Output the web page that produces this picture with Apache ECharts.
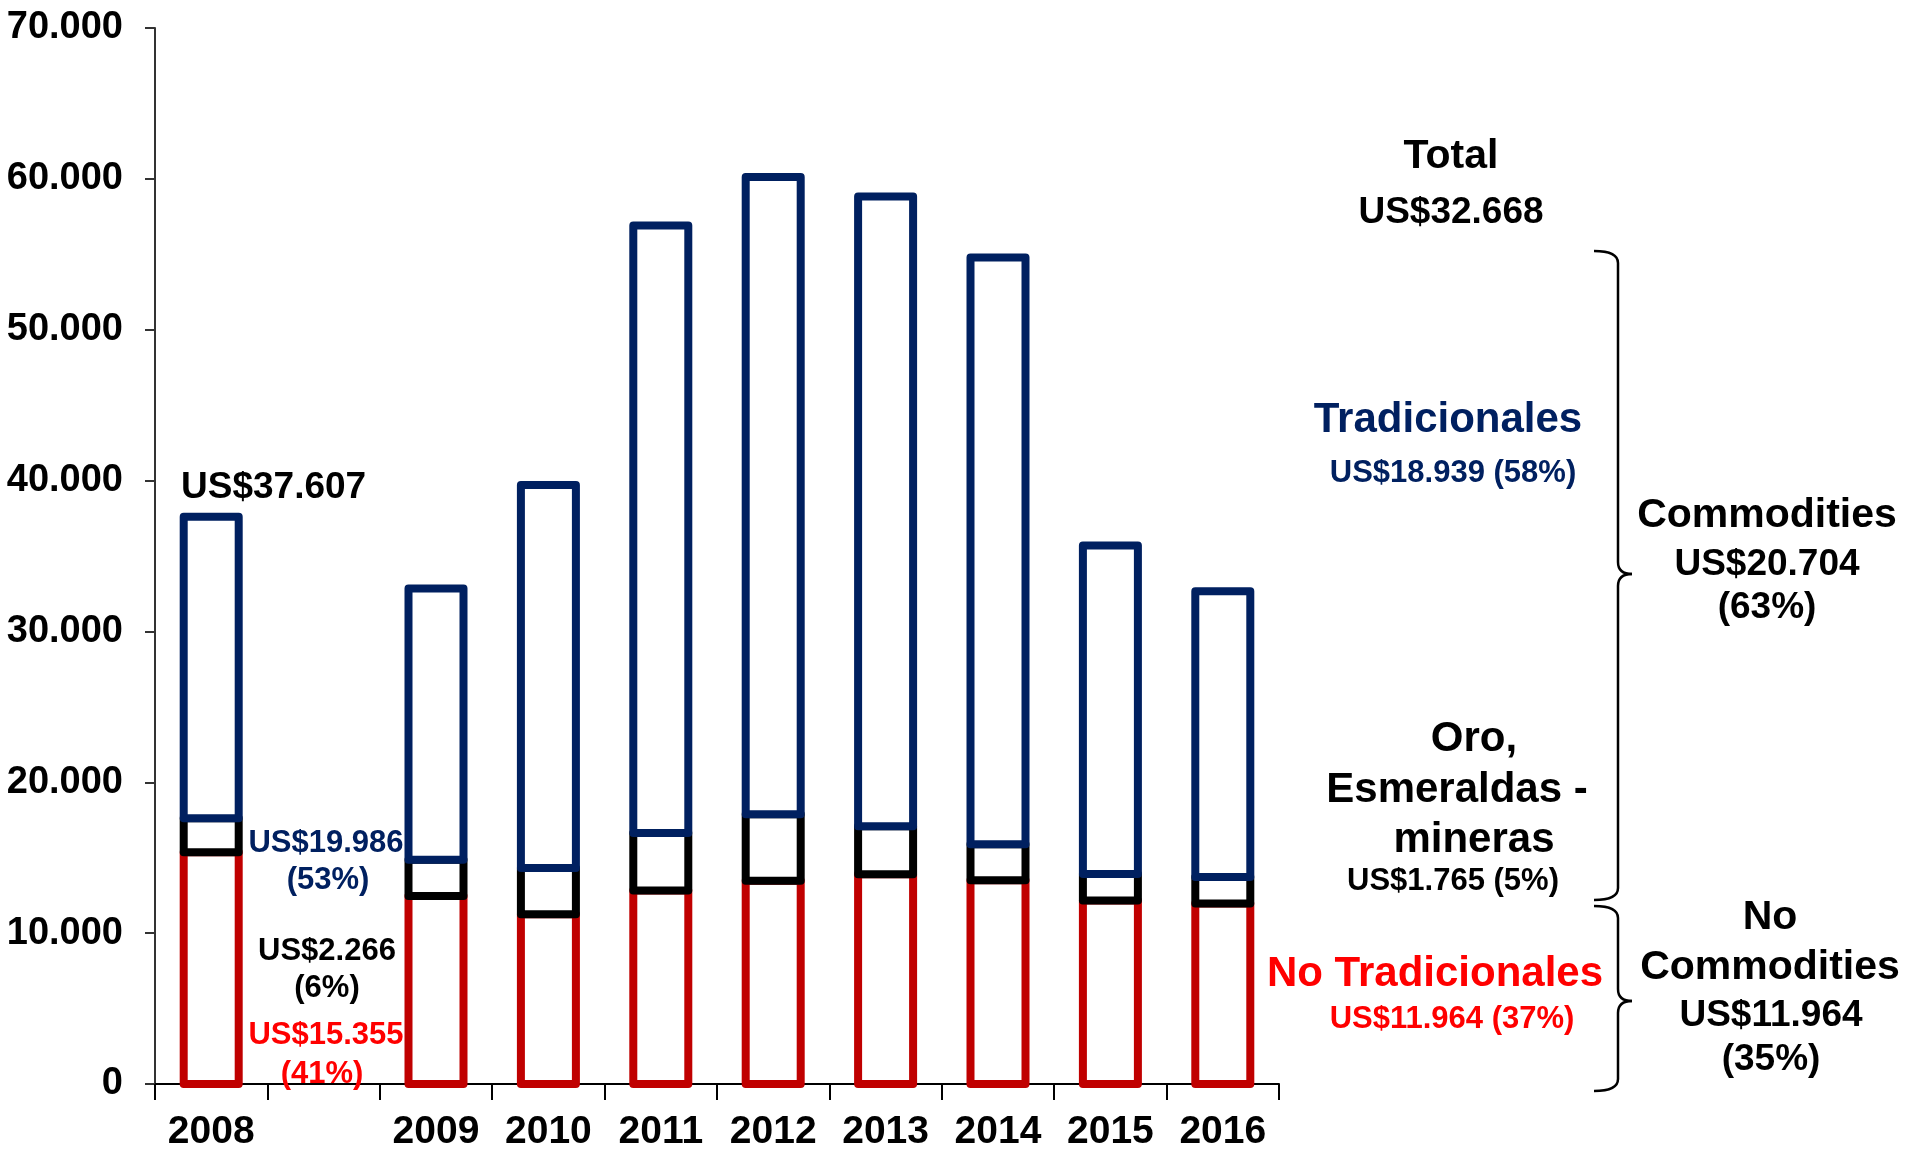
<!DOCTYPE html>
<html>
<head>
<meta charset="utf-8">
<script src="https://cdn.jsdelivr.net/npm/echarts@6/dist/echarts.min.js"></script>
<style>
html,body{margin:0;padding:0;background:#fff;}
#chart{width:1915px;height:1152px;}
</style>
</head>
<body>
<div id="chart"></div>
<script>
// Categories (second slot is an empty gap in the original chart)
const categories = ['2008', '', '2009', '2010', '2011', '2012', '2013', '2014', '2015', '2016'];
// No Tradicionales (bottom, red)
const noTradicionales = [15355, null, 12470, 11260, 12820, 13480, 13900, 13500, 12160, 11964];
// Oro, Esmeraldas - mineras (middle, black)
const oroEsmeraldas = [2266, null, 2400, 3060, 3810, 4400, 3190, 2400, 1760, 1765];
// Tradicionales (top, navy)
const tradicionales = [19986, null, 17983, 25393, 40285, 42245, 41736, 38895, 21771, 18939];
const yTicks = [0, 10000, 20000, 30000, 40000, 50000, 60000, 70000];

const NAVY = '#002060', DRED = '#C00000', RED = '#FF0000', BLACK = '#000000';
const FONT = '"Liberation Sans", Arial, sans-serif';
const BAR_W = 55, STROKE = 8;

const chart = echarts.init(document.getElementById('chart'), null, {renderer: 'canvas'});

function fmt(v) {
  return String(v).replace(/\B(?=(\d{3})+(?!\d))/g, '.');
}

// stacked [index, start, end] rows built from the value arrays
const layers = [noTradicionales, oroEsmeraldas, tradicionales];
function stackedRows(layerIdx) {
  const rows = [];
  categories.forEach(function (c, i) {
    const v = layers[layerIdx][i];
    if (v == null) return;
    let base = 0;
    for (let k = 0; k < layerIdx; k++) base += layers[k][i] || 0;
    rows.push([i, base, base + v]);
  });
  return rows;
}

function outlinedStack(name, layerIdx, color) {
  return {
    name: name,
    type: 'custom',
    data: stackedRows(layerIdx),
    encode: {x: 0, y: [1, 2]},
    z: 2 + layerIdx,
    silent: true,
    animation: false,
    renderItem: function (params, api) {
      const lo = api.coord([api.value(0), api.value(1)]);
      const hi = api.coord([api.value(0), api.value(2)]);
      return {
        type: 'rect',
        shape: {x: lo[0] - BAR_W / 2, y: hi[1], width: BAR_W, height: lo[1] - hi[1]},
        style: {fill: '#ffffff', stroke: color, lineWidth: STROKE, lineJoin: 'round'}
      };
    }
  };
}

function txt(x, y, text, size, color, align) {
  return {
    type: 'text', x: x, y: y, z: 10,
    style: {
      text: text, fill: color, font: 'bold ' + size + 'px ' + FONT,
      textAlign: align || 'center', textVerticalAlign: 'middle'
    }
  };
}

// curly brace made of straight lines and quadratic curls
function brace(x, top, mid, bottom, curlX, tipX) {
  const ls = {stroke: BLACK, lineWidth: 2.5, fill: null};
  const r = 12;
  return [
    {type: 'bezierCurve', z: 10, shape: {x1: curlX, y1: top, x2: x, y2: top + r, cpx1: x, cpy1: top}, style: ls},
    {type: 'line', z: 10, shape: {x1: x, y1: top + r, x2: x, y2: mid - r}, style: ls},
    {type: 'bezierCurve', z: 10, shape: {x1: x, y1: mid - r, x2: tipX, y2: mid, cpx1: x, cpy1: mid}, style: ls},
    {type: 'bezierCurve', z: 10, shape: {x1: tipX, y1: mid, x2: x, y2: mid + r, cpx1: x, cpy1: mid}, style: ls},
    {type: 'line', z: 10, shape: {x1: x, y1: mid + r, x2: x, y2: bottom - r}, style: ls},
    {type: 'bezierCurve', z: 10, shape: {x1: x, y1: bottom - r, x2: curlX, y2: bottom, cpx1: x, cpy1: bottom}, style: ls}
  ];
}

const graphics = [
  txt(181, 488, 'US$37.607', 37, BLACK, 'left'),
  txt(326, 843, 'US$19.986', 31, NAVY),
  txt(328, 880, '(53%)', 31, NAVY),
  txt(327, 951, 'US$2.266', 31, BLACK),
  txt(327, 988, '(6%)', 31, BLACK),
  txt(326, 1035, 'US$15.355', 31, RED),
  txt(322, 1074, '(41%)', 31, RED),

  txt(1451, 157, 'Total', 41, BLACK),
  txt(1451, 213, 'US$32.668', 37, BLACK),

  txt(1448, 420, 'Tradicionales', 42, NAVY),
  txt(1453, 473, 'US$18.939 (58%)', 31, NAVY),

  txt(1474, 739, 'Oro,', 42, BLACK),
  txt(1457, 790, 'Esmeraldas -', 42, BLACK),
  txt(1474, 840, 'mineras', 42, BLACK),
  txt(1453, 881, 'US$1.765 (5%)', 31, BLACK),

  txt(1435, 974, 'No Tradicionales', 42, RED),
  txt(1452, 1019, 'US$11.964 (37%)', 31, RED),

  txt(1767, 516, 'Commodities', 41, BLACK),
  txt(1767, 565, 'US$20.704', 37, BLACK),
  txt(1767, 608, '(63%)', 37, BLACK),

  txt(1770, 918, 'No', 41, BLACK),
  txt(1770, 968, 'Commodities', 41, BLACK),
  txt(1771, 1016, 'US$11.964', 37, BLACK),
  txt(1771, 1060, '(35%)', 37, BLACK)
].concat(brace(1618, 251, 574, 900, 1594, 1632))
  .concat(brace(1618, 906, 1001, 1091, 1594, 1632));

const option = {
  backgroundColor: '#ffffff',
  animation: false,
  grid: {left: 155, right: 636, top: 28, bottom: 58, containLabel: false},
  xAxis: {
    type: 'category',
    data: categories,
    axisLine: {show: true, lineStyle: {color: '#000', width: 2}},
    axisTick: {show: true, length: 16, lineStyle: {color: '#000', width: 2}},
    axisLabel: {
      interval: 0, margin: 29, color: '#000',
      fontFamily: FONT, fontWeight: 'bold', fontSize: 39
    },
    splitLine: {show: false}
  },
  yAxis: {
    type: 'value',
    min: yTicks[0],
    max: yTicks[yTicks.length - 1],
    interval: yTicks[1] - yTicks[0],
    axisLine: {show: true, lineStyle: {color: '#333', width: 2}},
    axisTick: {show: true, length: 10, lineStyle: {color: '#333', width: 2}},
    axisLabel: {
      margin: 32, color: '#000', fontFamily: FONT, fontWeight: 'bold', fontSize: 38,
      formatter: function (v) { return fmt(v); }
    },
    splitLine: {show: false}
  },
  series: [
    outlinedStack('No Tradicionales', 0, DRED),
    outlinedStack('Oro, Esmeraldas - mineras', 1, BLACK),
    outlinedStack('Tradicionales', 2, NAVY)
  ],
  graphic: graphics
};

chart.setOption(option);
</script>
</body>
</html>
